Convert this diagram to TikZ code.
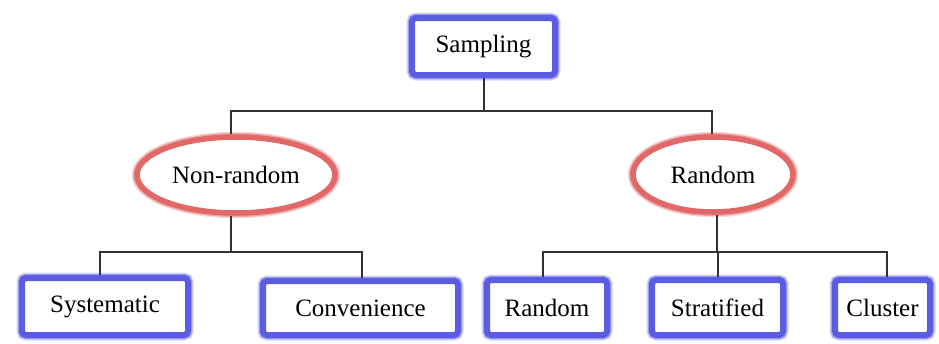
\documentclass[tikz,border=0pt]{standalone}
\usepackage{fontspec}
\setmainfont{Liberation Serif}
\usetikzlibrary{shapes.geometric}
\definecolor{boxblue}{RGB}{92,92,226}
\definecolor{ellred}{RGB}{226,104,104}
\definecolor{connc}{RGB}{50,50,50}
\tikzset{
  glowbox/.style={rectangle, rounded corners=4pt, fill=white, draw=boxblue,
    line width=6pt, inner sep=0pt, outer sep=3pt,
    preaction={draw=boxblue, line width=11pt, opacity=0.25},
    preaction={draw=boxblue, line width=8.5pt, opacity=0.45},
    font=\fontsize{25}{30}\selectfont},
  glowell/.style={ellipse, fill=white, draw=ellred,
    line width=5.5pt, inner sep=0pt, outer sep=3pt,
    preaction={draw=ellred, line width=10.5pt, opacity=0.25},
    preaction={draw=ellred, line width=8pt, opacity=0.45},
    font=\fontsize{25}{30}\selectfont},
  conn/.style={draw=connc, line width=2pt}
}
\begin{document}
\begin{tikzpicture}[x=1pt,y=-1pt]
\useasboundingbox (0,0) rectangle (939,343);
\fill[white] (0,0) rectangle (939,343);
\coordinate (ha) at (0,111);
\coordinate (hb) at (0,252);
% connectors (drawn first, nodes cover them)
\path (483.5,46.5) coordinate (pSamp)
      (236,175) coordinate (pNr)
      (713,174.5) coordinate (pR);
\node[glowbox, minimum width=143pt, minimum height=57pt] (samp) at (483.5,46.5) {Sampling};
\node[glowell, minimum width=198pt, minimum height=76pt] (nr) at (236,175) {Non-random};
\node[glowell, minimum width=160pt, minimum height=75pt] (r) at (713,174.5) {Random};
\node[glowbox, minimum width=166pt, minimum height=57pt] (sys) at (105,306.5) {Systematic};
\node[glowbox, minimum width=195pt, minimum height=54pt] (conv) at (360.5,308) {Convenience};
\node[glowbox, minimum width=120pt, minimum height=55pt] (rnd) at (547,307.5) {Random};
\node[glowbox, minimum width=131pt, minimum height=55pt] (strat) at (717.5,307.5) {Stratified};
\node[glowbox, minimum width=95pt, minimum height=55pt] (clus) at (882.5,307.5) {Cluster};
% level 1
\draw[conn] (samp.south) -- (samp.south |- ha);
\draw[conn] ([xshift=-5pt]nr.north) |- ([xshift=-1pt]r.north |- ha) -- ([xshift=-1pt]r.north);
% level 2 left
\draw[conn] ([xshift=-5pt]nr.south) -- ([xshift=-5pt]nr.south |- hb);
\draw[conn] ([xshift=-5pt]sys.north) |- ([xshift=1.5pt]conv.north |- hb) -- ([xshift=1.5pt]conv.north);
% level 2 right
\draw[conn] ([xshift=4pt]r.south) -- ([xshift=4pt]r.south |- hb);
\draw[conn] ([xshift=-4pt]rnd.north) |- ([xshift=4pt]clus.north |- hb) -- ([xshift=4pt]clus.north);
\draw[conn] (strat.north) -- (strat.north |- hb);
\end{tikzpicture}
\end{document}
